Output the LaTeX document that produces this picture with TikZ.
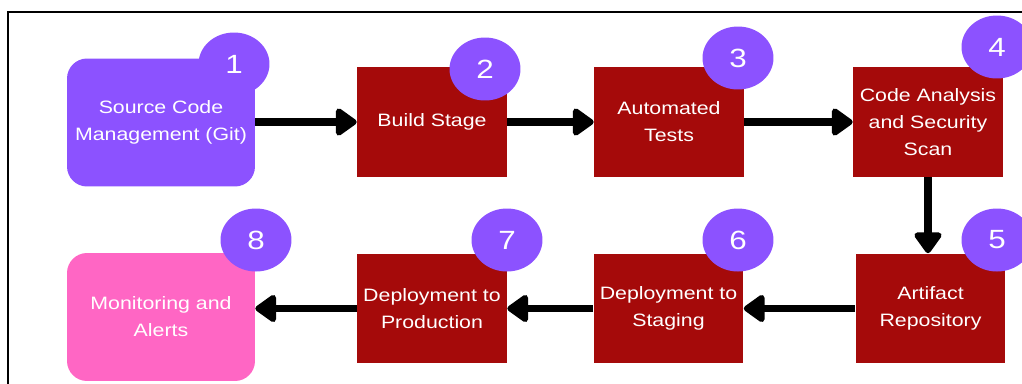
\documentclass[tikz,border=0pt]{standalone}
\usepackage{fontspec}
\setmainfont[FakeStretch=1.19]{Liberation Sans}
\usetikzlibrary{arrows.meta,shapes.geometric}
\definecolor{stagered}{HTML}{A50A0A}
\definecolor{badgepurple}{HTML}{8C52FF}
\definecolor{alertpink}{HTML}{FF66C4}
\tikzset{
    stage/.style={fill=stagered, minimum width=3cm, minimum height=2.2cm, text=white,
        align=center, inner sep=0pt, font=\fontsize{10.2}{15.4}\selectfont},
    endbox/.style={stage, rounded corners=0.4cm, minimum width=3.76cm, minimum height=2.56cm},
    badge/.style={ellipse, fill=badgepurple, minimum width=1.42cm, minimum height=1.26cm,
        text=white, inner sep=0pt, font=\fontsize{15}{15}\selectfont},
    flow/.style={line width=4.3pt, -{Triangle[length=4.6mm,width=6.2mm,round]}}
}
\begin{document}
\begin{tikzpicture}[x=0.02cm, y=-0.02cm]
        \useasboundingbox (0,0) rectangle (1022,383);
        \draw[line width=1.2pt] (8,390) -- (8,12) -- (1030,12);
        % top row
        \node[endbox, fill=badgepurple] (scm) at (161,122.5) {Source Code\\Management (Git)};
        \node[stage] (build) at (432,122) {Build Stage};
        \node[stage] (tests) at (669,122) {Automated\\Tests};
        \node[stage] (scan) at (928,122) {Code Analysis\\and Security\\Scan};
        % bottom row
        \node[stage] (artifact) at (930.5,308.5) {Artifact\\Repository};
        \node[stage] (staging) at (668.5,308.5) {Deployment to\\Staging};
        \node[stage] (prod) at (432,308.5) {Deployment to\\Production};
        \node[endbox, fill=alertpink] (monitor) at (161,317) {Monitoring and\\Alerts};
        % arrows
        \draw[flow] (scm.east |- build.west) -- (build.west);
        \draw[flow] (build) -- (tests);
        \draw[flow] (tests) -- (scan);
        \draw[flow] (scan.south) -- (scan.south |- artifact.north);
        \draw[flow] (artifact) -- (staging);
        \draw[flow] (staging) -- (prod);
        \draw[flow] (prod.west) -- (prod.west -| monitor.east);
        % step badges
        \node[badge] (b1) at (234,64) {1};
        \node[badge] (b2) at (485,69) {2};
        \node[badge] (b3) at (738,58) {3};
        \node[badge] (b4) at (997,47) {4};
        \node[badge] (b5) at (997,240) {5};
        \node[badge] (b6) at (738,240) {6};
        \node[badge] (b7) at (507,240) {7};
        \node[badge] (b8) at (256,240) {8};
    \end{tikzpicture}
\end{document}
